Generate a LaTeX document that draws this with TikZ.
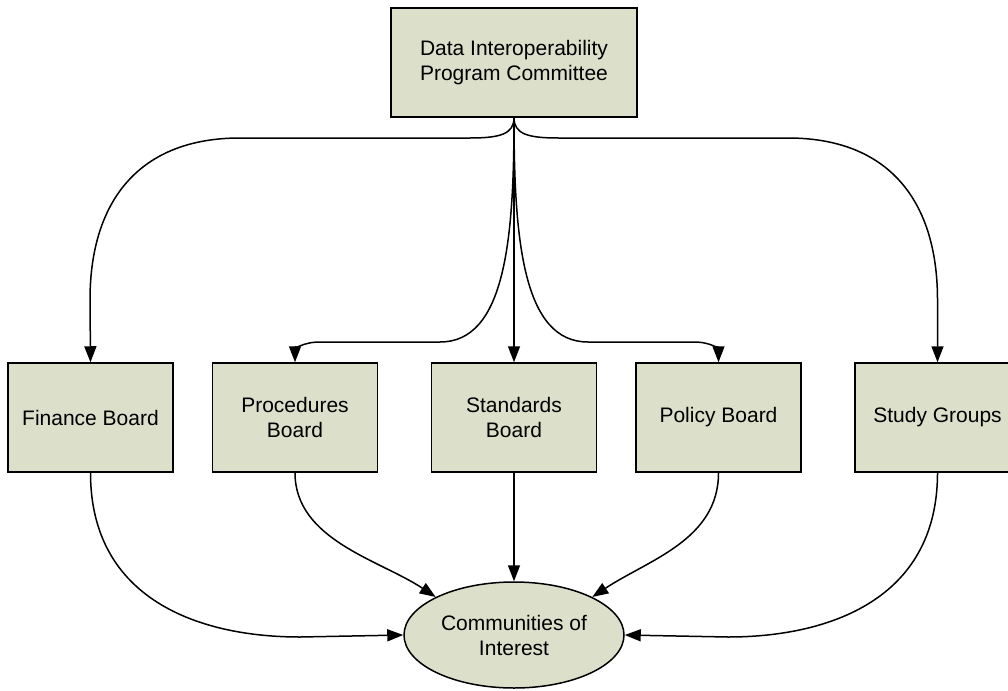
\documentclass[tikz,border=0pt]{standalone}
\usepackage{fontspec}
\setmainfont{Liberation Sans}
\usetikzlibrary{arrows.meta,shapes.geometric}
\definecolor{boxfill}{RGB}{220,224,203}
\tikzset{
  orgbox/.style={draw=black, line width=1.5pt, fill=boxfill, rectangle,
    minimum width=165pt, minimum height=109pt, inner sep=0pt, align=center,
    font=\fontsize{21}{25}\selectfont},
  orgoval/.style={draw=black, line width=1.5pt, fill=boxfill, ellipse,
    minimum width=220pt, minimum height=106pt, inner sep=0pt, align=center,
    font=\fontsize{21}{25}\selectfont},
  conn/.style={line width=1.5pt, -{Triangle[length=16pt,width=12pt]}}
}
\begin{document}
\begin{tikzpicture}[x=1pt,y=-1pt]
\useasboundingbox (0,0) rectangle (1008,690);

% committee at the top
\node[orgbox, minimum width=246pt] (dipc) at (514,62.5) {Data Interoperability\\Program Committee};

% the five boards
\node[orgbox] (fin) at (90.5,417.5) {Finance Board};
\node[orgbox] (proc) at (295,417.5) {Procedures\\Board};
\node[orgbox] (std) at (514,417.5) {Standards\\Board};
\node[orgbox] (pol) at (718.5,417.5) {Policy Board};
\node[orgbox] (study) at (937.5,417.5) {Study Groups};

% communities
\node[orgoval] (coi) at (514,635) {Communities of\\Interest};

% committee to boards
\draw[conn] (dipc.south) .. controls (514,134) and (500,138) .. (470,138) -- (240,138)
  .. controls (140,138) and (90,200) .. (90,300) -- (fin.north);
\draw[conn] (dipc.south) .. controls (514,134) and (528,138) .. (558,138) -- (788,138)
  .. controls (888,138) and (937.5,200) .. (937.5,300) -- (study.north);
\draw[conn] (dipc.south) .. controls (514,240) and (505,342) .. (440,342) -- (320,342)
  .. controls (302,342) and (295,350) .. (proc.north);
\draw[conn] (dipc.south) .. controls (514,240) and (523,342) .. (588,342) -- (694,342)
  .. controls (712,342) and (718.5,350) .. (pol.north);
\draw[conn] (dipc.south) -- (std.north);

% boards to communities
\draw[conn] (fin.south) .. controls (90.5,600) and (200,637) .. (300,637) -- (coi.west);
\draw[conn] (study.south) .. controls (937.5,600) and (828,637) .. (728,637) -- (coi.east);
\draw[conn] (proc.south) .. controls (295,540) and (380,560) .. (coi.north west);
\draw[conn] (pol.south) .. controls (718.5,540) and (648,560) .. (coi.north east);
\draw[conn] (std.south) -- (coi.north);
\end{tikzpicture}
\end{document}
